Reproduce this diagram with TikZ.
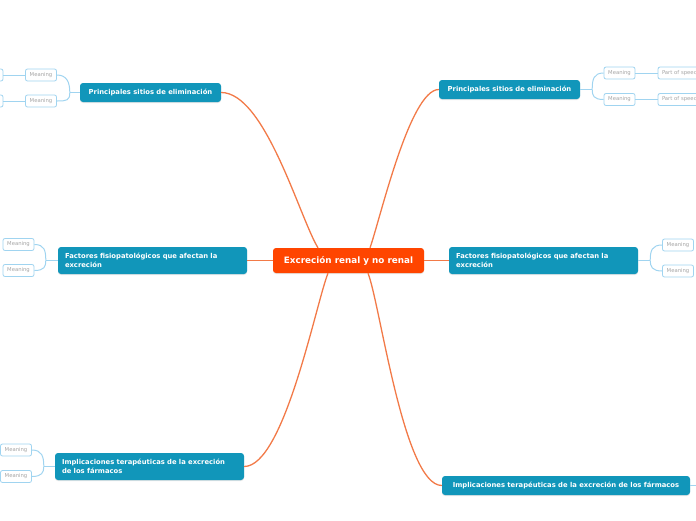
\documentclass[tikz,border=0pt]{standalone}
\usepackage{fontspec}
\setmainfont{DejaVu Sans}
\usetikzlibrary{shadows,calc}
\definecolor{topicblue}{RGB}{17,150,186}
\definecolor{rootred}{RGB}{255,69,0}
\definecolor{orangeline}{RGB}{242,122,72}
\definecolor{lightblue}{RGB}{160,212,240}
\definecolor{meangray}{RGB}{165,165,165}
\begin{document}
\begin{tikzpicture}[x=1pt,y=-1pt,
  rootbox/.style={fill=rootred, rounded corners=3pt, text=white,
    font=\fontsize{8.8}{10}\selectfont\bfseries, minimum width=151pt,
    minimum height=25pt, inner sep=0pt,
    drop shadow={opacity=0.2, shadow xshift=0pt, shadow yshift=-1pt}},
  topicone/.style={fill=topicblue, rounded corners=3pt, text=white,
    font=\fontsize{6.8}{9}\selectfont\bfseries, minimum width=#1,
    minimum height=19pt, inner sep=0pt,
    drop shadow={opacity=0.2, shadow xshift=0pt, shadow yshift=-1pt}},
  topictwo/.style={fill=topicblue, rounded corners=3pt, text=white,
    font=\fontsize{6.8}{9}\selectfont\bfseries, text width=175pt, align=left,
    minimum height=27pt, inner xsep=7pt, inner ysep=0pt,
    drop shadow={opacity=0.2, shadow xshift=0pt, shadow yshift=-1pt}},
  meanbox/.style={draw=lightblue, fill=white, rounded corners=2pt, line width=0.8pt,
    text=meangray, font=\fontsize{5.3}{6}\selectfont, minimum width=#1,
    minimum height=12pt, inner sep=0pt},
  meanbox/.default=31pt,
  oline/.style={draw=orangeline, line width=1.3pt},
  bline/.style={draw=lightblue, line width=1pt}
]
\useasboundingbox (0,0) rectangle (696,520);
\clip (0,0) rectangle (696,520);

% root
\node[rootbox] (root) at (348.5,260.5) {Excreción renal y no renal};

% topics
\node[topicone=141pt] (tl) at (150.5,92.5) {Principales sitios de eliminación};
\node[topicone=141pt] (tr) at (509.5,89.5) {Principales sitios de eliminación};
\node[topictwo] (ml) at (152.5,260.5) {Factores fisiopatológicos que afectan la\\excreción};
\node[topictwo] (mr) at (543.5,260.5) {Factores fisiopatológicos que afectan la\\excreción};
\node[topictwo] (bl) at (149.5,466.5) {Implicaciones terapéuticas de la excreción\\de los fármacos};
\node[topicone=248pt] (br) at (566,485.5) {Implicaciones terapéuticas de la excreción de los fármacos};

% orange connectors
\draw[oline] ([xshift=-30.5pt]root.north) .. controls +(-18,-29) and +(44,0) .. (tl.east);
\draw[oline] ([xshift=21.5pt]root.north) .. controls +(10,-28) and +(-29,0) .. (tr.west);
\draw[oline] (root.west) -- (ml.east);
\draw[oline] (root.east) -- (mr.west);
\draw[oline] ([xshift=-20.5pt]root.south) .. controls +(-12,30) and +(40,0) .. (bl.east);
\draw[oline] ([xshift=19.5pt]root.south) .. controls +(12,30) and +(-38,0) .. (br.west);

% top-left subtopics
\node[meanbox] (tl1) at (41,75) {Meaning};
\node[meanbox] (tl2) at (41,101) {Meaning};
\node[meanbox=52pt] (tl1a) at (-23,75) {};
\node[meanbox=52pt] (tl2a) at (-23,101) {};
\draw[bline] (tl.west) -- ++(-10,0) coordinate (tlb);
\draw[bline] (tlb) .. controls +(0,-10) and +(10,0) .. (tl1.east);
\draw[bline] (tlb) .. controls +(0,8) and +(10,0) .. (tl2.east);
\draw[bline] (tl1.west) -- (tl1a.east);
\draw[bline] (tl2.west) -- (tl2a.east);

% top-right subtopics
\node[meanbox] (tr1) at (619.5,73) {Meaning};
\node[meanbox] (tr2) at (619.5,99.5) {Meaning};
\node[meanbox=52pt, text width=44pt, align=left, inner xsep=4pt] (tr1a) at (684,73) {Part of speech};
\node[meanbox=52pt, text width=44pt, align=left, inner xsep=4pt] (tr2a) at (684,99.5) {Part of speech};
\draw[bline] (tr.east) -- ++(12,0) coordinate (trb);
\draw[bline] (trb) .. controls +(0,-10) and +(-10,0) .. (tr1.west);
\draw[bline] (trb) .. controls +(0,6) and +(-10,0) .. (tr2.west);
\draw[bline] (tr1.east) -- (tr1a.west);
\draw[bline] (tr2.east) -- (tr2a.west);

% middle-left subtopics
\node[meanbox] (ml1) at (18.5,244.5) {Meaning};
\node[meanbox] (ml2) at (18.5,270.5) {Meaning};
\draw[bline] (ml.west) -- ++(-12,0) coordinate (mlb);
\draw[bline] (mlb) .. controls +(0,-10) and +(10,0) .. (ml1.east);
\draw[bline] (mlb) .. controls +(0,6) and +(10,0) .. (ml2.east);

% middle-right subtopics
\node[meanbox] (mr1) at (678,245) {Meaning};
\node[meanbox] (mr2) at (678,271) {Meaning};
\draw[bline] (mr.east) -- ++(12,0) coordinate (mrb);
\draw[bline] (mrb) .. controls +(0,-10) and +(-10,0) .. (mr1.west);
\draw[bline] (mrb) .. controls +(0,6) and +(-10,0) .. (mr2.west);

% bottom-left subtopics
\node[meanbox] (bl1) at (16,450) {Meaning};
\node[meanbox] (bl2) at (16,476.5) {Meaning};
\draw[bline] (bl.west) -- ++(-11,0) coordinate (blb);
\draw[bline] (blb) .. controls +(0,-10) and +(10,0) .. (bl1.east);
\draw[bline] (blb) .. controls +(0,6) and +(10,0) .. (bl2.east);

% bottom-right continuation
\coordinate (brend) at (705,485.5);
\draw[bline] (br.east) -- (brend);
\end{tikzpicture}
\end{document}
